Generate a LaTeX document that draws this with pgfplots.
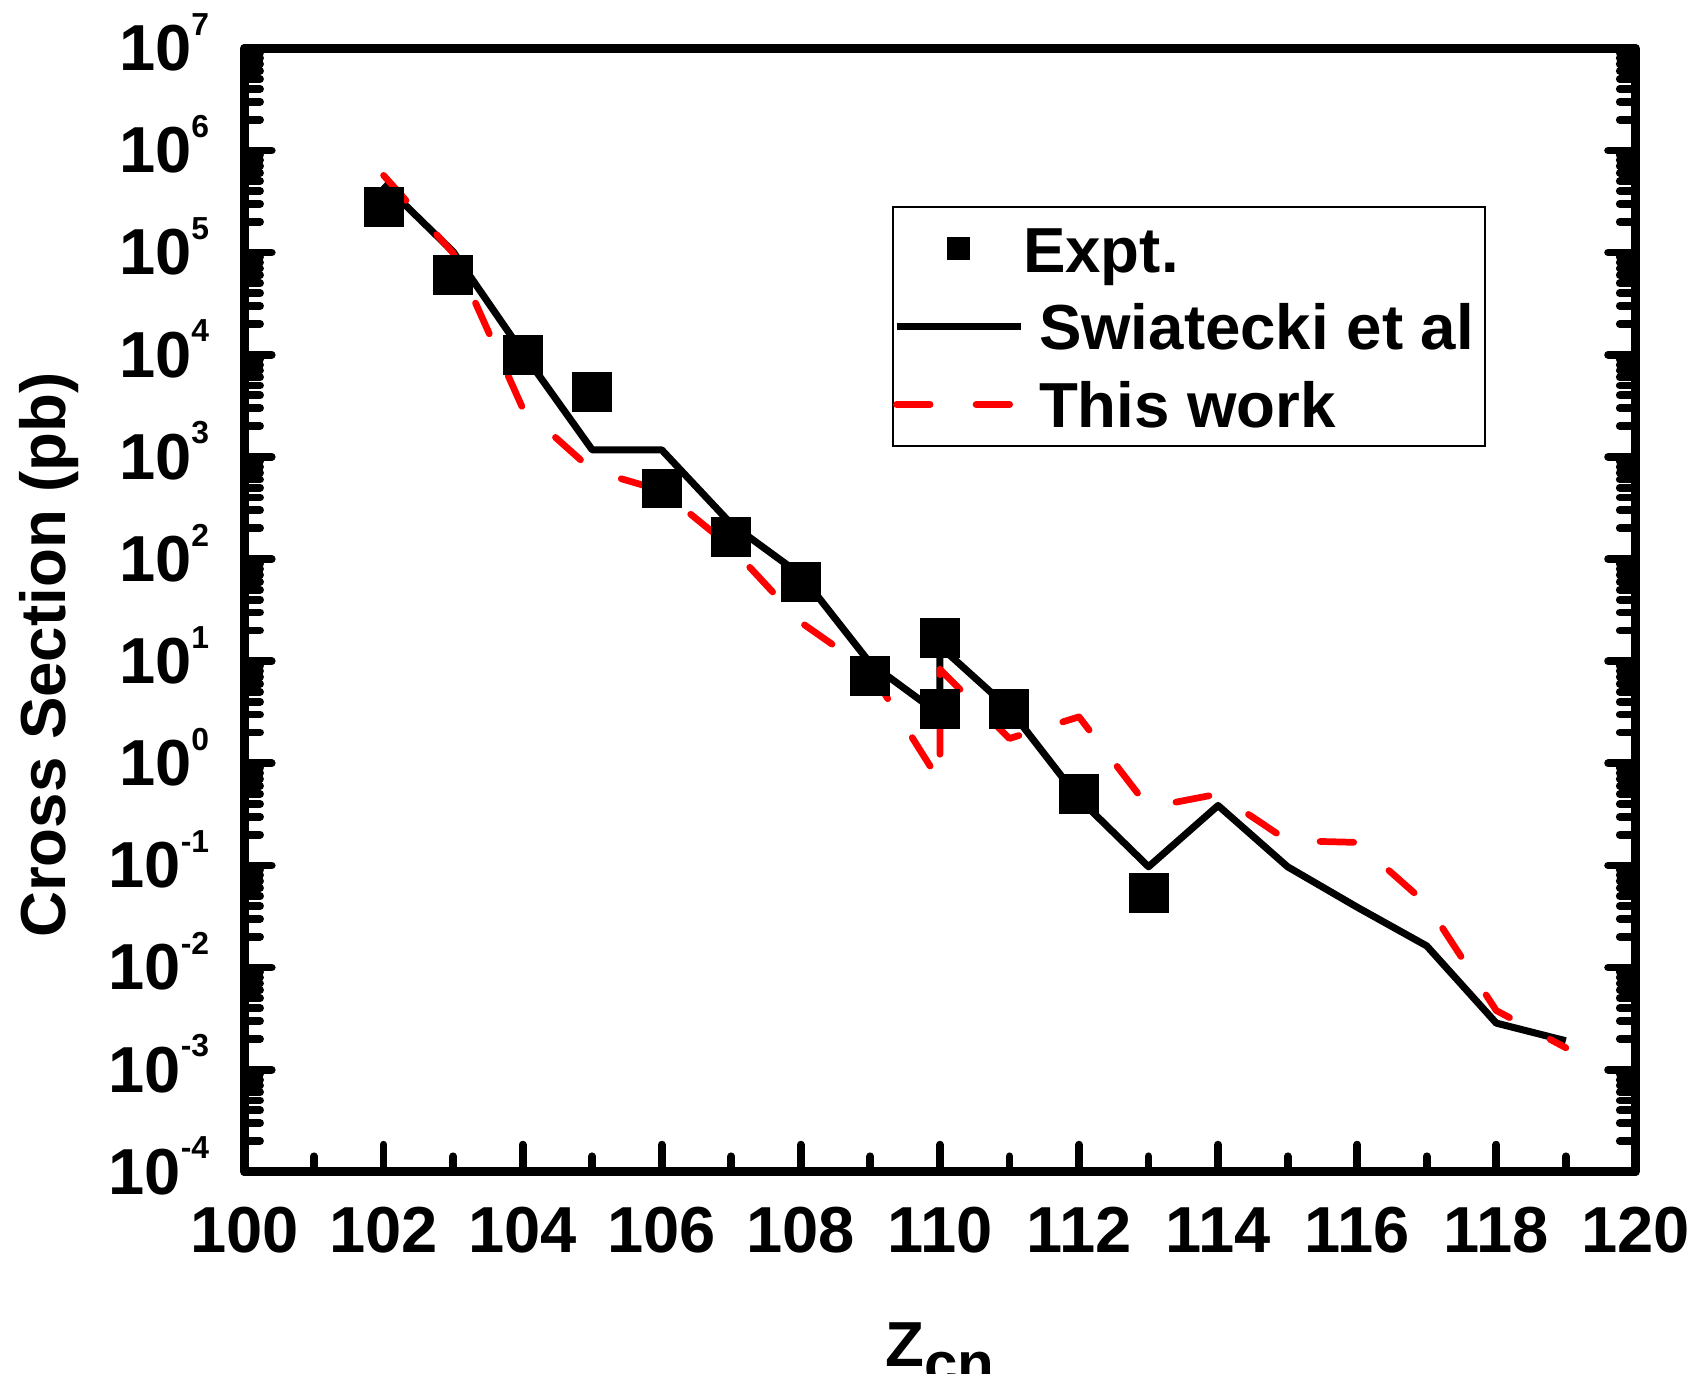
\documentclass[border=0pt]{standalone}
\usepackage{pgfplots}
\pgfplotsset{compat=1.18}
\usepackage{fontspec}
\setmainfont{Liberation Sans}

% decade tick label: 10 with a small raised exponent
\newcommand{\dec}[1]{10\raisebox{10pt}[0pt][0pt]{\fontsize{9}{9}\selectfont #1}}

\definecolor{thiswork}{RGB}{255,0,0}

\pgfplotsset{
  long line sample/.style={legend image code/.code={\draw[##1] (0pt,0pt) -- (35.1pt,0pt);}},
  square sample/.style={legend image code/.code={\path[##1, mark size=3.1pt] plot coordinates {(17.55pt,0pt)};
                                                 \path[draw=none, fill=none] (0pt,0pt) -- (35.1pt,0pt);}},
}

\begin{document}
\begin{tikzpicture}
\begin{axis}[
  at={(0pt,0pt)}, anchor=south west,
  scale only axis,
  width=393.4pt, height=317.8pt,
  xmin=100, xmax=120,
  ymode=log, log basis y=10,
  ymin=1e-4, ymax=1e7,
  xtick={100,102,...,120},
  minor x tick num=1,
  ytick={1e-4,1e-3,1e-2,1e-1,1,1e1,1e2,1e3,1e4,1e5,1e6,1e7},
  minor ytick={
    2e-4,3e-4,4e-4,5e-4,6e-4,7e-4,8e-4,9e-4,
    2e-3,3e-3,4e-3,5e-3,6e-3,7e-3,8e-3,9e-3,
    2e-2,3e-2,4e-2,5e-2,6e-2,7e-2,8e-2,9e-2,
    2e-1,3e-1,4e-1,5e-1,6e-1,7e-1,8e-1,9e-1,
    2,3,4,5,6,7,8,9,
    2e1,3e1,4e1,5e1,6e1,7e1,8e1,9e1,
    2e2,3e2,4e2,5e2,6e2,7e2,8e2,9e2,
    2e3,3e3,4e3,5e3,6e3,7e3,8e3,9e3,
    2e4,3e4,4e4,5e4,6e4,7e4,8e4,9e4,
    2e5,3e5,4e5,5e5,6e5,7e5,8e5,9e5,
    2e6,3e6,4e6,5e6,6e6,7e6,8e6,9e6},
  yticklabels={\dec{-4},\dec{-3},\dec{-2},\dec{-1},\dec{0},\dec{1},\dec{2},\dec{3},\dec{4},\dec{5},\dec{6},\dec{7}},
  xtick pos=left, ytick pos=both,
  tick align=inside,
  major tick length=7.7pt, minor tick length=4.4pt,
  every tick/.style={black, line width=2.2pt, line cap=round},
  axis line style={line width=2.6pt, line join=round},
  /pgf/number format/assume math mode=true,
  /pgf/number format/1000 sep={},
  tick label style={font=\bfseries\fontsize{18.4}{18.4}\selectfont},
  xticklabel style={anchor=north, inner sep=0pt, yshift=-9.9pt},
  yticklabel style={anchor=east, inner sep=0pt, xshift=-9.8pt},
  xlabel={Z\raisebox{-5pt}{\fontsize{17}{17}\selectfont cn}},
  xlabel style={at={(axis description cs:0.5,0)}, anchor=north, yshift=-42.5pt,
                inner sep=0pt, font=\bfseries\fontsize{18}{18}\selectfont},
  ylabel={Cross Section (pb)},
  ylabel style={at={(axis description cs:-0.129,0.460)}, anchor=base,
                inner sep=0pt, font=\bfseries\fontsize{18}{18}\selectfont},
  legend style={
    at={(axis description cs:0.4655,0.8597)}, anchor=north west,
    draw=black, line width=0.6pt,
    inner xsep=0pt, inner ysep=5.3pt,
    row sep=8.9pt, column sep=4.2pt,
    font=\bfseries\fontsize{18}{18}\selectfont,
    nodes={inner sep=0pt, text height=13.1pt, text depth=0pt},
  },
  legend cell align=left,
]

% experimental cross sections
\addplot[only marks, mark=square*, mark size=5.5pt, black,
         mark options={line width=0.3pt}, square sample]
  coordinates {
  (102,2.8e5) (103,6.0e4) (104,1.0e4) (105,4.3e3) (106,490) (107,165)
  (108,60) (109,7.2) (110,16.7) (110,3.4) (111,3.4) (112,0.5) (113,0.054)
  };
\addlegendentry{\hspace*{-4.5pt}Expt.}

% Swiatecki et al. systematics
\addplot[black, line width=2pt, line join=round, long line sample]
  coordinates {
  (102,4.7e5) (103,1.02e5) (104,1.05e4) (105,1.17e3) (106,1.17e3) (107,220)
  (108,70) (109,9.5) (110,3.0) (110,14) (111,3.4) (112,0.45) (113,0.097)
  (114,0.386) (115,0.097) (116,0.039) (117,0.0163) (118,0.00286) (119,0.00192)
  };
\addlegendentry{Swiatecki et al\hspace*{3.1pt}}

% present calculation
\addplot[thiswork, line width=1.9pt, line cap=round, line join=round,
         dash pattern=on 9.5pt off 13pt, long line sample]
  coordinates {
  (102,5.7e5) (103,9.9e4) (104,3.0e3) (105,740) (106,467) (107,130)
  (108,24) (109,8.0) (110,0.66) (110,8.3) (111,1.75) (112,2.85) (113,0.37)
  (114,0.5) (115,0.175) (116,0.168) (117,0.042) (118,0.0038) (119,0.00164)
  };
\addlegendentry{This work}

\end{axis}
\pgfresetboundingbox
\path[use as bounding box] (-69.16pt,-57.14pt) rectangle (410.84pt,331.46pt);
\end{tikzpicture}
\end{document}
